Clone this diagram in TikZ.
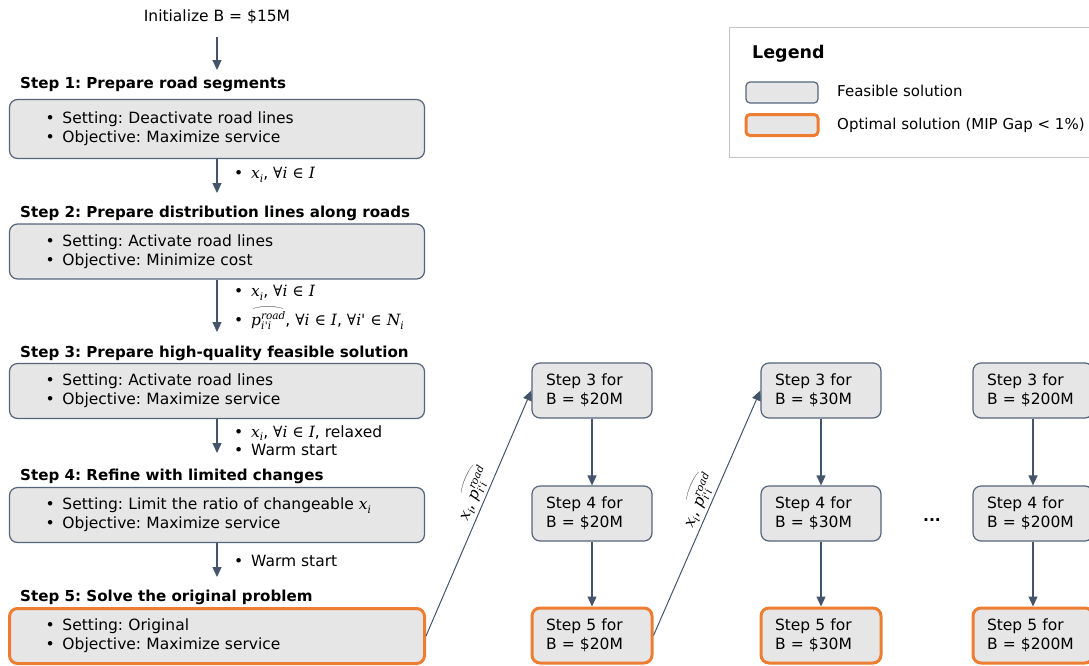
\documentclass[tikz,border=0pt]{standalone}
\usepackage{fontspec}
\usepackage{graphicx}
\setmainfont{DejaVu Sans}
\newfontfamily\mser{DejaVu Serif}
\usetikzlibrary{arrows.meta}
\definecolor{boxfill}{HTML}{E6E6E6}
\definecolor{boxline}{HTML}{56647A}
\definecolor{arr}{HTML}{44546A}
\definecolor{opt}{HTML}{ED7D31}
\definecolor{leg}{HTML}{C4C4C4}
\newcommand{\bul}{\makebox[17pt][l]{•}}
\newcommand{\mi}[1]{{\mser\itshape #1}}
\newcommand{\mup}[1]{{\mser #1}}
\newcommand{\lowsub}[1]{\raisebox{-3.5pt}{\fontsize{10.5}{10}\selectfont\mi{#1}}}
\newcommand{\xsub}{\mi{x}\lowsub{i}}
\newsavebox\pbox
\newcommand{\proad}{\sbox\pbox{\mi{p}\rlap{\raisebox{-3.5pt}{\fontsize{10.5}{10}\selectfont\mi{i\kern0.3pt'\kern0.3pt i}}}\raisebox{6pt}{\fontsize{10.5}{10}\selectfont\mi{road}}}\rlap{\usebox\pbox}\raisebox{\dimexpr\ht\pbox+1.5pt\relax}{\resizebox{\wd\pbox}{3.5pt}{$\frown$}}}
\frenchspacing
\begin{document}
\begin{tikzpicture}[x=1pt,y=-1pt,
  every node/.style={font=\fontsize{15.5}{19}\selectfont, inner sep=0pt},
  bigbox/.style={draw=boxline, line width=1.2pt, fill=boxfill, rounded corners=8pt,
    minimum width=415pt, minimum height=55pt, text width=343pt, inner xsep=36pt,
    align=left, anchor=center},
  smallbox/.style={draw=boxline, line width=1.2pt, fill=boxfill, rounded corners=8pt,
    minimum width=120pt, minimum height=55pt, text width=92pt, inner xsep=14pt,
    align=left, anchor=center},
  optimal/.style={draw=opt, line width=3pt},
  heading/.style={font=\fontsize{15.1}{19}\selectfont\bfseries, anchor=west, text height=12pt, text depth=4pt},
  lab/.style={anchor=west},
  flow/.style={draw=arr, line width=1.2pt, -{Triangle[width=9pt,length=10pt]}}
]
\useasboundingbox (0,0) rectangle (1089,665);

% left column
\node[anchor=center] (init) at (217,17) {Initialize B = \$15M};
\node[heading] (h1) at (20,84) {Step 1: Prepare road segments};
\node[bigbox, minimum height=59pt] (s1) at (217,129) {\bul Setting: Deactivate road lines\\\bul Objective: Maximize service};
\node[heading] (h2) at (20,213) {Step 2: Prepare distribution lines along roads};
\node[bigbox] (s2) at (217,251.5) {\bul Setting: Activate road lines\\\bul Objective: Minimize cost};
\node[heading] (h3) at (20,353) {Step 3: Prepare high-quality feasible solution};
\node[bigbox] (s3) at (217,391) {\bul Setting: Activate road lines\\\bul Objective: Maximize service};
\node[heading] (h4) at (20,476) {Step 4: Refine with limited changes};
\node[bigbox] (s4) at (217,515) {\bul Setting: Limit the ratio of changeable \xsub\\\bul Objective: Maximize service};
\node[heading] (h5) at (20,597) {Step 5: Solve the original problem};
\node[bigbox, optimal] (s5) at (217,636) {\bul Setting: Original\\\bul Objective: Maximize service};

\coordinate (t0) at (217,37);
\coordinate (e0) at (217,70);
\coordinate (e1) at (217,193);
\coordinate (e2) at (217,332);
\coordinate (e3) at (217,453);
\coordinate (e4) at (217,577);
\draw[flow] (t0) -- (e0);
\draw[flow] (s1.south) -- (e1);
\draw[flow] (s2.south) -- (e2);
\draw[flow] (s3.south) -- (e3);
\draw[flow] (s4.south) -- (e4);

\node[lab] (l1) at (234,175) {\bul \xsub, \mup{∀}\mi{i} \mup{∈} \mi{I}};
\node[lab] (l2a) at (234,293) {\bul \xsub, \mup{∀}\mi{i} \mup{∈} \mi{I}};
\node[lab] (l2b) at (234,318) {\bul \proad, \mup{∀}\mi{i} \mup{∈} \mi{I}, \mup{∀}\mi{i'} \mup{∈} \mi{N}\lowsub{i}};
\node[lab] (l3a) at (234,433) {\bul \xsub, \mup{∀}\mi{i} \mup{∈} \mi{I}, relaxed};
\node[lab] (l3b) at (234,450) {\bul Warm start};
\node[lab] (l4) at (234,561) {\bul Warm start};

% columns
\node[smallbox] (a3) at (592,390.5) {Step 3 for\\B = \$20M};
\node[smallbox] (a4) at (592,513.5) {Step 4 for\\B = \$20M};
\node[smallbox, optimal] (a5) at (592,635.5) {Step 5 for\\B = \$20M};
\node[smallbox] (b3) at (821,390.5) {Step 3 for\\B = \$30M};
\node[smallbox] (b4) at (821,513.5) {Step 4 for\\B = \$30M};
\node[smallbox, optimal] (b5) at (821,635.5) {Step 5 for\\B = \$30M};
\node[smallbox] (c3) at (1033,390.5) {Step 3 for\\B = \$200M};
\node[smallbox] (c4) at (1033,513.5) {Step 4 for\\B = \$200M};
\node[smallbox, optimal] (c5) at (1033,635.5) {Step 5 for\\B = \$200M};
\node[font=\fontsize{15.5}{19}\selectfont\bfseries] (dots) at (932,520) {...};

\draw[flow] (a3.south) -- (a4.north);
\draw[flow] (a4.south) -- (a5.north);
\draw[flow] (b3.south) -- (b4.north);
\draw[flow] (b4.south) -- (b5.north);
\draw[flow] (c3.south) -- (c4.north);
\draw[flow] (c4.south) -- (c5.north);

\draw[flow, line width=1pt] (s5.east) -- node[pos=0.56, sloped, above=3pt] (d1) {\xsub, \proad} (a3.west);
\draw[flow, line width=1pt] (a5.east) -- node[pos=0.53, sloped, above=3pt] (d2) {\xsub, \proad} (b3.west);

% legend
\node[draw=leg, line width=1pt, anchor=north west, minimum width=380pt, minimum height=130pt] (legend) at (729,27) {};
\node[anchor=west, font=\fontsize{17.5}{20}\selectfont\bfseries] (legt) at (752,54) {Legend};
\node[draw=boxline, line width=1.2pt, fill=boxfill, rounded corners=4pt, minimum width=72pt, minimum height=21pt] (lf) at (782,92.5) {};
\node[draw=opt, line width=3pt, fill=boxfill, rounded corners=4pt, minimum width=72pt, minimum height=21pt] (lo) at (782,125) {};
\node[lab, font=\fontsize{15}{18}\selectfont] (lft) at (837,91) {Feasible solution};
\node[lab, font=\fontsize{15}{18}\selectfont] (lot) at (837,125) {Optimal solution (MIP Gap < 1\%)};
\end{tikzpicture}
\end{document}
